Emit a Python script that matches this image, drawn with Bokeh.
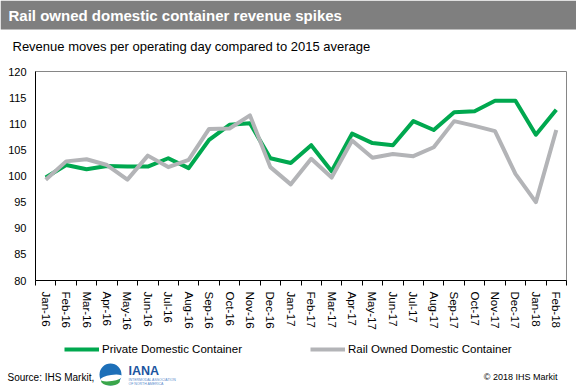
from bokeh.plotting import figure
from bokeh.layouts import column
from bokeh.models import (Range1d, FixedTicker, Legend, LegendItem, ColumnDataSource)
from bokeh.core.properties import value
from bokeh.embed import file_html
from bokeh.resources import INLINE

months = ["Jan-16", "Feb-16", "Mar-16", "Apr-16", "May-16", "Jun-16", "Jul-16",
          "Aug-16", "Sep-16", "Oct-16", "Nov-16", "Dec-16", "Jan-17", "Feb-17",
          "Mar-17", "Apr-17", "May-17", "Jun-17", "Jul-17", "Aug-17", "Sep-17",
          "Oct-17", "Nov-17", "Dec-17", "Jan-18", "Feb-18"]
private_dc = [99.7, 102.1, 101.3, 101.9, 101.8, 101.8, 103.4, 101.5, 106.9, 109.8,
              110.1, 103.4, 102.5, 105.9, 100.9, 108.1, 106.3, 105.9, 110.5, 108.8,
              112.2, 112.4, 114.4, 114.4, 107.9, 112.7]
rail_dc = [99.3, 102.8, 103.2, 102.1, 99.3, 103.9, 101.7, 103.1, 109.0, 109.1,
           111.6, 101.7, 98.4, 103.3, 99.7, 106.8, 103.5, 104.2, 103.8, 105.5,
           110.5, 109.6, 108.6, 100.4, 95.0, 108.8]
y_ticks = [80, 85, 90, 95, 100, 105, 110, 115, 120]

title_text = "Rail owned domestic container revenue spikes"
subtitle_text = "Revenue moves per operating day compared to 2015 average"
legend_labels = ["Private Domestic Container", "Rail Owned Domestic Container"]
source_text = "Source: IHS Markit,"
copyright_text = "\u00a9 2018 IHS Markit"
logo_name = "IANA"
logo_lines = ["INTERMODAL ASSOCIATION", "OF NORTH AMERICA"]

FONT = "Liberation Sans"
GREEN = "#00a84f"
GRAY = "#b3b4b7"
W = 576


def blank_fig(h):
    f = figure(width=W, height=h, output_backend="svg", toolbar_location=None,
               x_range=Range1d(0, W), y_range=Range1d(h, 0),
               x_axis_location=None, y_axis_location=None, min_border=0,
               title=None, frame_align=False)
    f.xgrid.visible = False
    f.ygrid.visible = False
    f.outline_line_color = None
    f.background_fill_color = "white"
    f.border_fill_color = "white"
    return f


# ---- header ----
top = blank_fig(63)
top.quad(left=[0], right=[W], top=[0], bottom=[29], fill_color="#7f7f7f",
         line_color=None)
top.text(x=[8], y=[15], text=[title_text], text_font=value(FONT),
         text_font_size="15px", text_font_style="bold", text_color="white",
         text_baseline="middle", text_align="left")
top.text(x=[12], y=[46], text=[subtitle_text], text_font=value(FONT),
         text_font_size="13px", text_color="black",
         text_baseline="middle", text_align="left")

# ---- main chart ----
centers = [i + 0.5 for i in range(len(months))]
bounds = list(range(len(months) + 1))
src = ColumnDataSource(dict(x=centers, private=private_dc, rail=rail_dc))

p = figure(width=W, height=277, output_backend="svg", toolbar_location=None,
           x_range=Range1d(0, len(months)), y_range=Range1d(80, 120),
           min_border_left=35, min_border_right=10, min_border_top=8,
           min_border_bottom=60, title=None, frame_align=False)
p.xgrid.visible = False
p.ygrid.visible = False
p.outline_line_color = "#868686"
p.background_fill_color = "white"
p.border_fill_color = "white"

r1 = p.line("x", "private", source=src, line_color=GREEN, line_width=4,
            line_join="round")
r2 = p.line("x", "rail", source=src, line_color=GRAY, line_width=4,
            line_join="round")

ya = p.yaxis[0]
ya.ticker = FixedTicker(ticks=y_ticks)
ya.major_tick_out = 0
ya.major_tick_in = 0
ya.minor_tick_out = 0
ya.minor_tick_in = 0
ya.axis_line_color = "black"
ya.major_label_standoff = 9
ya.major_label_text_font = FONT
ya.major_label_text_font_size = "11px"
ya.major_label_text_color = "black"

xa = p.xaxis[0]
xa.ticker = FixedTicker(ticks=centers, minor_ticks=bounds)
xa.major_label_overrides = {c: m for c, m in zip(centers, months)}
xa.major_tick_out = 0
xa.major_tick_in = 0
xa.minor_tick_out = 5
xa.minor_tick_in = 0
xa.minor_tick_line_color = "black"
xa.axis_line_color = "black"
xa.major_label_orientation = "vertical"
xa.major_label_standoff = 6
xa.major_label_text_font = FONT
xa.major_label_text_font_size = "11.5px"
xa.major_label_text_color = "black"

# ---- footer: legend, source, logo ----
BH = 51
bot = blank_fig(BH)
g1 = bot.line(x=[0], y=[0], line_color=GREEN, line_width=4)
g2 = bot.line(x=[0], y=[0], line_color=GRAY, line_width=4)
legend = Legend(items=[LegendItem(label=legend_labels[0], renderers=[g1]),
                       LegendItem(label=legend_labels[1], renderers=[g2])],
                orientation="horizontal", location=(64, BH - 16), padding=0,
                margin=0, spacing=68, glyph_width=35, glyph_height=14,
                label_height=14, label_standoff=3, border_line_color=None,
                background_fill_alpha=0, label_text_font=FONT,
                label_text_font_size="11.5px", label_text_color="black")
bot.add_layout(legend)

bot.text(x=[7], y=[37], text=[source_text], text_font=value(FONT),
         text_font_size="10px", text_color="black",
         text_baseline="middle", text_align="left")
bot.text(x=[557], y=[36], text=[copyright_text], text_font=value(FONT),
         text_font_size="9px", text_color="black",
         text_baseline="middle", text_align="right")

# IANA logo (approximation)
bot.circle(x=[110], y=[34], radius=11, fill_color="#1d6fb8", line_color=None)
bot.ellipse(x=[110], y=[40.5], width=19, height=9, fill_color="#3aa64a",
            line_color=None)
bot.ellipse(x=[111], y=[37.5], width=22, height=6, angle=0.15,
            fill_color="white", line_color=None)
bot.text(x=[128], y=[30.5], text=[logo_name], text_font=value(FONT),
         text_font_size="12.5px", text_font_style="bold", text_color="#1c55a0",
         text_baseline="middle", text_align="left")
bot.text(x=[128, 128], y=[39, 43], text=logo_lines, text_font=value(FONT),
         text_font_size="3.5px", text_color="#5b8ccc",
         text_baseline="middle", text_align="left")

layout = column(top, p, bot, spacing=0)
open("out.html", "w").write(file_html(layout, INLINE))
